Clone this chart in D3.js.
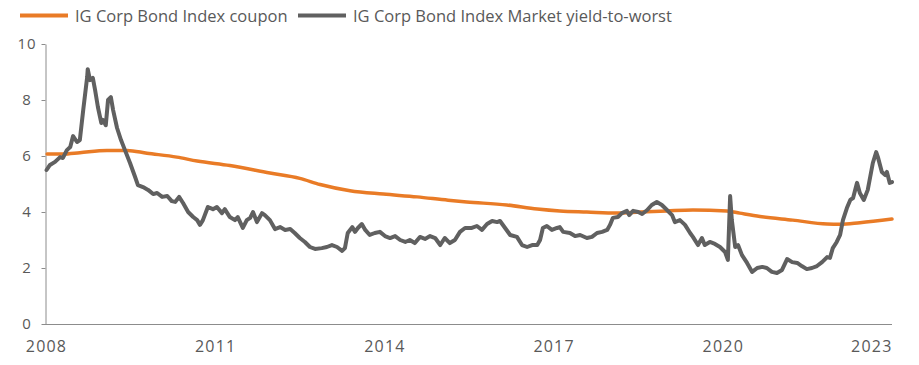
<!DOCTYPE html>
<html>
<head>
<meta charset="utf-8">
<script src="https://cdn.jsdelivr.net/npm/d3@7"></script>
<style>
  html, body { margin: 0; padding: 0; background: #fff; }
  svg { display: block; font-family: "Open Sans", Arial, sans-serif; }
</style>
</head>
<body>
<svg id="chart" width="919" height="365"></svg>
<script>
// ---- Data (decimal years) ----
const seriesNames = ["IG Corp Bond Index coupon", "IG Corp Bond Index Market yield-to-worst"];

const couponYears = [2008.02,2008.30,2008.60,2009.08,2009.44,2009.79,2010.32,2010.68,2011.26,2011.97,2012.50,2012.86,2013.39,2013.98,2014.58,2015.13,2015.46,2016.17,2016.71,2017.11,2017.59,2018.12,2018.53,2019.01,2019.47,2020.07,2020.30,2020.66,2021.24,2021.85,2022.08,2022.43,2023.00];
const couponValues = [6.07,6.07,6.12,6.20,6.20,6.10,5.96,5.82,5.66,5.39,5.20,4.98,4.76,4.64,4.54,4.42,4.36,4.25,4.11,4.04,4.00,3.96,4.00,4.04,4.07,4.04,3.96,3.84,3.71,3.57,3.56,3.62,3.75];

const ytwYears = [2008.01,2008.07,2008.16,2008.25,2008.30,2008.37,2008.43,2008.48,2008.55,2008.60,2008.66,2008.73,2008.74,2008.78,2008.83,2008.87,2008.92,2008.98,2009.01,2009.06,2009.10,2009.15,2009.19,2009.26,2009.33,2009.40,2009.49,2009.58,2009.63,2009.72,2009.81,2009.90,2009.97,2010.06,2010.15,2010.23,2010.29,2010.36,2010.43,2010.52,2010.61,2010.68,2010.73,2010.78,2010.87,2010.96,2011.03,2011.12,2011.17,2011.26,2011.35,2011.40,2011.49,2011.56,2011.62,2011.67,2011.74,2011.83,2011.88,2011.97,2012.06,2012.15,2012.24,2012.33,2012.41,2012.50,2012.59,2012.68,2012.77,2012.89,2012.98,2013.07,2013.16,2013.25,2013.30,2013.35,2013.43,2013.48,2013.53,2013.60,2013.66,2013.74,2013.83,2013.92,2014.01,2014.10,2014.19,2014.28,2014.37,2014.45,2014.54,2014.63,2014.72,2014.81,2014.90,2014.99,2015.07,2015.16,2015.25,2015.34,2015.43,2015.55,2015.64,2015.73,2015.82,2015.91,2016.00,2016.05,2016.14,2016.23,2016.35,2016.44,2016.53,2016.62,2016.71,2016.76,2016.81,2016.88,2016.97,2017.06,2017.11,2017.17,2017.29,2017.38,2017.47,2017.59,2017.68,2017.77,2017.86,2017.95,2018.00,2018.05,2018.14,2018.21,2018.30,2018.34,2018.41,2018.50,2018.57,2018.66,2018.74,2018.83,2018.92,2019.01,2019.10,2019.15,2019.24,2019.33,2019.42,2019.47,2019.56,2019.63,2019.68,2019.77,2019.86,2019.95,2020.04,2020.09,2020.13,2020.16,2020.22,2020.27,2020.34,2020.43,2020.52,2020.61,2020.70,2020.78,2020.87,2020.96,2021.05,2021.14,2021.23,2021.32,2021.40,2021.49,2021.58,2021.67,2021.76,2021.85,2021.90,2021.95,2022.02,2022.08,2022.13,2022.20,2022.26,2022.31,2022.38,2022.43,2022.50,2022.57,2022.66,2022.72,2022.75,2022.82,2022.88,2022.91,2022.96,2023.00];
const ytwValues = [5.50,5.68,5.79,5.96,5.93,6.21,6.32,6.71,6.50,6.57,7.64,8.82,9.10,8.71,8.79,8.36,7.75,7.18,7.29,7.10,8.00,8.10,7.64,7.00,6.57,6.21,5.75,5.25,4.96,4.89,4.79,4.64,4.68,4.54,4.57,4.39,4.36,4.54,4.32,4.00,3.82,3.71,3.54,3.70,4.18,4.10,4.18,3.96,4.10,3.82,3.71,3.82,3.43,3.71,3.79,4.00,3.64,3.96,3.89,3.71,3.39,3.46,3.36,3.39,3.25,3.07,2.93,2.75,2.68,2.71,2.75,2.82,2.75,2.61,2.71,3.25,3.46,3.29,3.43,3.57,3.36,3.18,3.25,3.29,3.14,3.07,3.14,3.00,2.93,3.00,2.89,3.11,3.04,3.14,3.07,2.82,3.07,2.89,3.00,3.29,3.43,3.43,3.50,3.36,3.57,3.68,3.64,3.68,3.43,3.18,3.11,2.82,2.75,2.82,2.82,3.00,3.43,3.50,3.36,3.43,3.46,3.29,3.25,3.14,3.18,3.07,3.11,3.25,3.29,3.36,3.54,3.79,3.82,3.96,4.04,3.89,4.04,4.00,3.93,4.07,4.25,4.36,4.25,4.07,3.89,3.64,3.71,3.54,3.25,3.11,2.82,3.07,2.82,2.93,2.86,2.75,2.57,2.29,4.57,3.71,2.75,2.82,2.46,2.18,1.86,2.00,2.04,2.00,1.86,1.82,1.93,2.32,2.21,2.18,2.07,1.96,2.00,2.07,2.21,2.39,2.36,2.71,2.93,3.18,3.71,4.14,4.43,4.50,5.04,4.68,4.43,4.79,5.75,6.14,5.96,5.43,5.32,5.43,5.04,5.07];

const xTickYears = [2008, 2011, 2014, 2017, 2020, 2023];
const yTicks = [0, 2, 4, 6, 8, 10];

// ---- Layout ----
const svg = d3.select("#chart");
const x = d3.scaleLinear().domain([2008, 2023]).range([46, 892]);
const y = d3.scaleLinear().domain([0, 10]).range([324, 44]);

const orange = "#E97B26";
const gray = "#606060";
const textColor = "#595959";
const axisColor = "#8c8c8c";

// Y axis
const yAxis = svg.append("g")
  .attr("transform", "translate(45.5,0)")
  .call(d3.axisLeft(y).tickValues(yTicks).tickSize(4).tickSizeOuter(0).tickFormat(d3.format("d")));
yAxis.select(".domain").attr("stroke", axisColor);
yAxis.selectAll(".tick line").attr("stroke", axisColor);
yAxis.selectAll(".tick text")
  .attr("x", -18.5).attr("text-anchor", "middle")
  .attr("fill", textColor).style("font-size", "15px").style("letter-spacing", "1px")
  .style("font-family", "'Open Sans', Arial, sans-serif");

// X axis
const xAxis = svg.append("g")
  .attr("transform", "translate(0,324.5)")
  .call(d3.axisBottom(x).tickValues(xTickYears).tickSize(0).tickPadding(16.5).tickFormat(d3.format("d")));
xAxis.select(".domain").attr("stroke", axisColor).attr("d", `M45,0H${x(2023)}`);
xAxis.selectAll(".tick text")
  .attr("fill", textColor).style("font-size", "16px").style("letter-spacing", "1.2px")
  .style("font-family", "'Open Sans', Arial, sans-serif")
  .attr("text-anchor", (d, i) => i === xTickYears.length - 1 ? "end" : "middle");

// Lines
const couponData = couponYears.map((t, i) => ({ t, v: couponValues[i] }));
const ytwData = ytwYears.map((t, i) => ({ t, v: ytwValues[i] }));

svg.append("path").datum(couponData)
  .attr("fill", "none").attr("stroke", orange).attr("stroke-width", 3.5)
  .attr("stroke-linejoin", "round").attr("stroke-linecap", "round")
  .attr("d", d3.line().x(d => x(d.t)).y(d => y(d.v)).curve(d3.curveMonotoneX));

svg.append("path").datum(ytwData)
  .attr("fill", "none").attr("stroke", gray).attr("stroke-width", 4)
  .attr("stroke-linejoin", "round").attr("stroke-linecap", "round")
  .attr("d", d3.line().x(d => x(d.t)).y(d => y(d.v)));

// Legend
const legend = svg.append("g");
const legendItems = [
  { name: seriesNames[0], color: orange, x0: 20 },
  { name: seriesNames[1], color: gray, x0: 298 }
];
legendItems.forEach(it => {
  legend.append("line")
    .attr("x1", it.x0).attr("x2", it.x0 + 48).attr("y1", 15.5).attr("y2", 15.5)
    .attr("stroke", it.color).attr("stroke-width", 4);
  legend.append("text")
    .attr("x", it.x0 + 55).attr("y", 22)
    .attr("fill", textColor).style("font-size", "16.5px")
    .text(it.name);
});
</script>
</body>
</html>
